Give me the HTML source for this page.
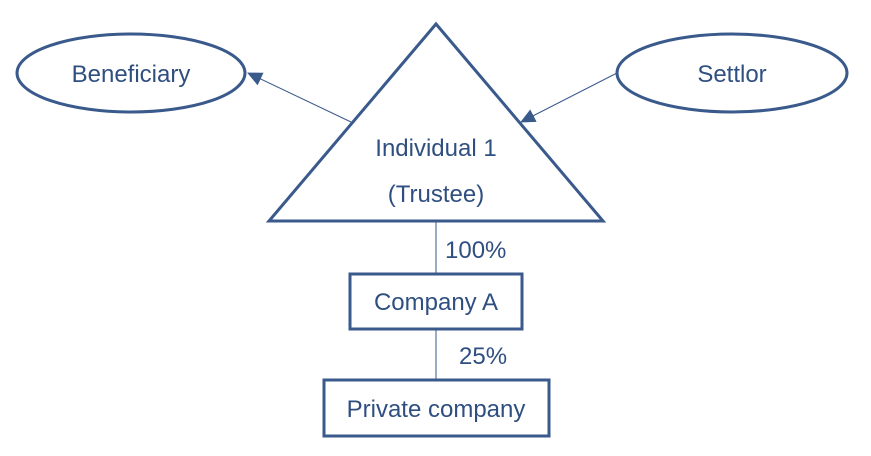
<!DOCTYPE html>
<html><head><meta charset="utf-8"><style>
html,body{margin:0;padding:0;background:#fff;}
svg{display:block;}
text{font-family:"Liberation Sans",sans-serif;fill:#2f4f80;font-size:24px;}
</style></head><body>
<svg width="871" height="456" viewBox="0 0 871 456" xmlns="http://www.w3.org/2000/svg">
<defs>
<marker id="ah" markerWidth="15" markerHeight="14" refX="14" refY="7" orient="auto" markerUnits="userSpaceOnUse">
<path d="M0,0 L15,7 L0,14 z" fill="#3a5a8c"/>
</marker>
</defs>
<g fill="none" stroke="#3a5a8c">
<ellipse cx="131" cy="73" rx="114" ry="39" stroke-width="3"/>
<ellipse cx="732" cy="73" rx="115" ry="39" stroke-width="3"/>
<polygon points="436,24 269,221 603,221" stroke-width="3"/>
<line x1="351" y1="122" x2="248" y2="73" stroke-width="1" marker-end="url(#ah)"/>
<line x1="617" y1="73" x2="521" y2="122" stroke-width="1" marker-end="url(#ah)"/>
<line x1="436" y1="222" x2="436" y2="273" stroke-width="1"/>
<line x1="436" y1="329" x2="436" y2="380" stroke-width="1"/>
<rect x="350" y="274" width="172" height="55" stroke-width="3"/>
<rect x="324" y="380" width="225" height="56" stroke-width="3"/>
</g>
<text x="131" y="82" text-anchor="middle">Beneficiary</text>
<text x="732" y="82" text-anchor="middle">Settlor</text>
<text x="436" y="156" text-anchor="middle">Individual 1</text>
<text x="436" y="202" text-anchor="middle">(Trustee)</text>
<text x="445" y="258">100%</text>
<text x="436" y="310" text-anchor="middle">Company A</text>
<text x="459" y="364">25%</text>
<text x="436" y="417" text-anchor="middle">Private company</text>
</svg>
</body></html>
